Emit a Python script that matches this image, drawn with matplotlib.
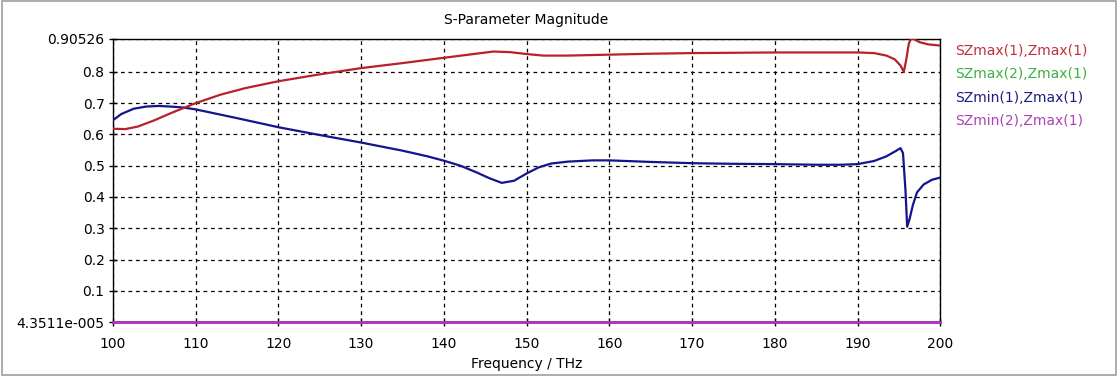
import matplotlib.pyplot as plt
from matplotlib.patches import Rectangle

# --- DATA ---
y_bottom = 4.3511e-05
y_top = 0.90526

freq_red = [100, 101.5, 103, 105, 107, 110, 113, 116, 120, 125, 130, 135, 140, 143,
            146, 148, 150, 152, 155, 160, 165, 170, 175, 180, 185, 190, 192, 193.5,
            194.5, 195.2, 195.6, 195.9, 196.2, 196.5, 197, 197.5, 198.5, 200]
szmax1 = [0.618, 0.617, 0.625, 0.645, 0.668, 0.700, 0.727, 0.748, 0.770, 0.792, 0.812,
          0.828, 0.845, 0.855, 0.865, 0.863, 0.857, 0.852, 0.852, 0.855, 0.858, 0.860,
          0.861, 0.862, 0.862, 0.862, 0.860, 0.852, 0.840, 0.820, 0.800, 0.840, 0.890,
          0.908, 0.902, 0.895, 0.888, 0.884]

freq_blue = [100, 101, 102.5, 104, 105.5, 107, 108.5, 110, 115, 120, 125, 130, 135, 138,
             140, 142, 144, 145.5, 147, 148.5, 150, 151.5, 153, 155, 158, 160, 165, 170,
             175, 180, 185, 188, 190, 192, 193.5, 194.5, 195.2, 195.5, 195.8, 196.0,
             196.3, 196.7, 197.2, 198, 199, 200]
szmin1 = [0.645, 0.665, 0.682, 0.689, 0.691, 0.689, 0.686, 0.680, 0.652, 0.623, 0.598,
          0.574, 0.548, 0.530, 0.516, 0.500, 0.478, 0.460, 0.445, 0.452, 0.475, 0.495,
          0.507, 0.513, 0.517, 0.517, 0.512, 0.508, 0.506, 0.505, 0.503, 0.503, 0.505,
          0.515, 0.530, 0.545, 0.556, 0.540, 0.420, 0.305, 0.330, 0.375, 0.415, 0.440,
          0.455, 0.462]

freq_flat = [100, 200]
szmax2 = [4.3511e-05, 4.3511e-05]
szmin2 = [4.3511e-05, 4.3511e-05]

y_ticks = [y_bottom, 0.1, 0.2, 0.3, 0.4, 0.5, 0.6, 0.7, 0.8, y_top]
y_tick_labels = ['4.3511e-005', '0.1', '0.2', '0.3', '0.4', '0.5', '0.6', '0.7', '0.8', '0.90526']
x_ticks = [100, 110, 120, 130, 140, 150, 160, 170, 180, 190, 200]

labels = ['SZmax(1),Zmax(1)', 'SZmax(2),Zmax(1)', 'SZmin(1),Zmax(1)', 'SZmin(2),Zmax(1)']
label_colors = ['#c0303a', '#3cb043', '#1c1c80', '#b040b8']

# --- PLOT ---
fig = plt.figure(figsize=(11.18, 3.78), dpi=100)
ax = fig.add_axes([0.101, 0.148, 0.740, 0.749])

ax.plot(freq_flat, szmax2, color='#3cb043', linewidth=1.5, zorder=3)
ax.plot(freq_flat, szmin2, color='#b030c0', linewidth=2.0, zorder=4, clip_on=False)
ax.plot(freq_blue, szmin1, color='#14148c', linewidth=1.6, zorder=4)
ax.plot(freq_red, szmax1, color='#b8202a', linewidth=1.6, zorder=4)

ax.set_xlim(100, 200)
ax.set_ylim(y_bottom, y_top)
ax.set_xticks(x_ticks)
ax.set_yticks(y_ticks)
ax.set_yticklabels(y_tick_labels)
ax.tick_params(direction='inout', length=6, width=1, labelsize=10, pad=3)
ax.tick_params(axis='x', pad=8)

ax.grid(True, color='black', linestyle=(0, (3, 3)), linewidth=0.9)
for s in ax.spines.values():
    s.set_linewidth(1.0)

ax.set_title('S-Parameter Magnitude', fontsize=10, pad=11)
ax.set_xlabel('Frequency / THz', fontsize=10, labelpad=4)

# colored text legend at the right
for i, (lab, col) in enumerate(zip(labels, label_colors)):
    fig.text(0.854, 0.865 - i * 0.062, lab, color=col, fontsize=10, va='center', ha='left')

# outer frame of the window
fig.patches.append(Rectangle((0.002, 0.008), 0.996, 0.99, transform=fig.transFigure,
                             fill=False, edgecolor='#a0a0a0', linewidth=1.2))

fig.savefig('out.png', dpi=100)
